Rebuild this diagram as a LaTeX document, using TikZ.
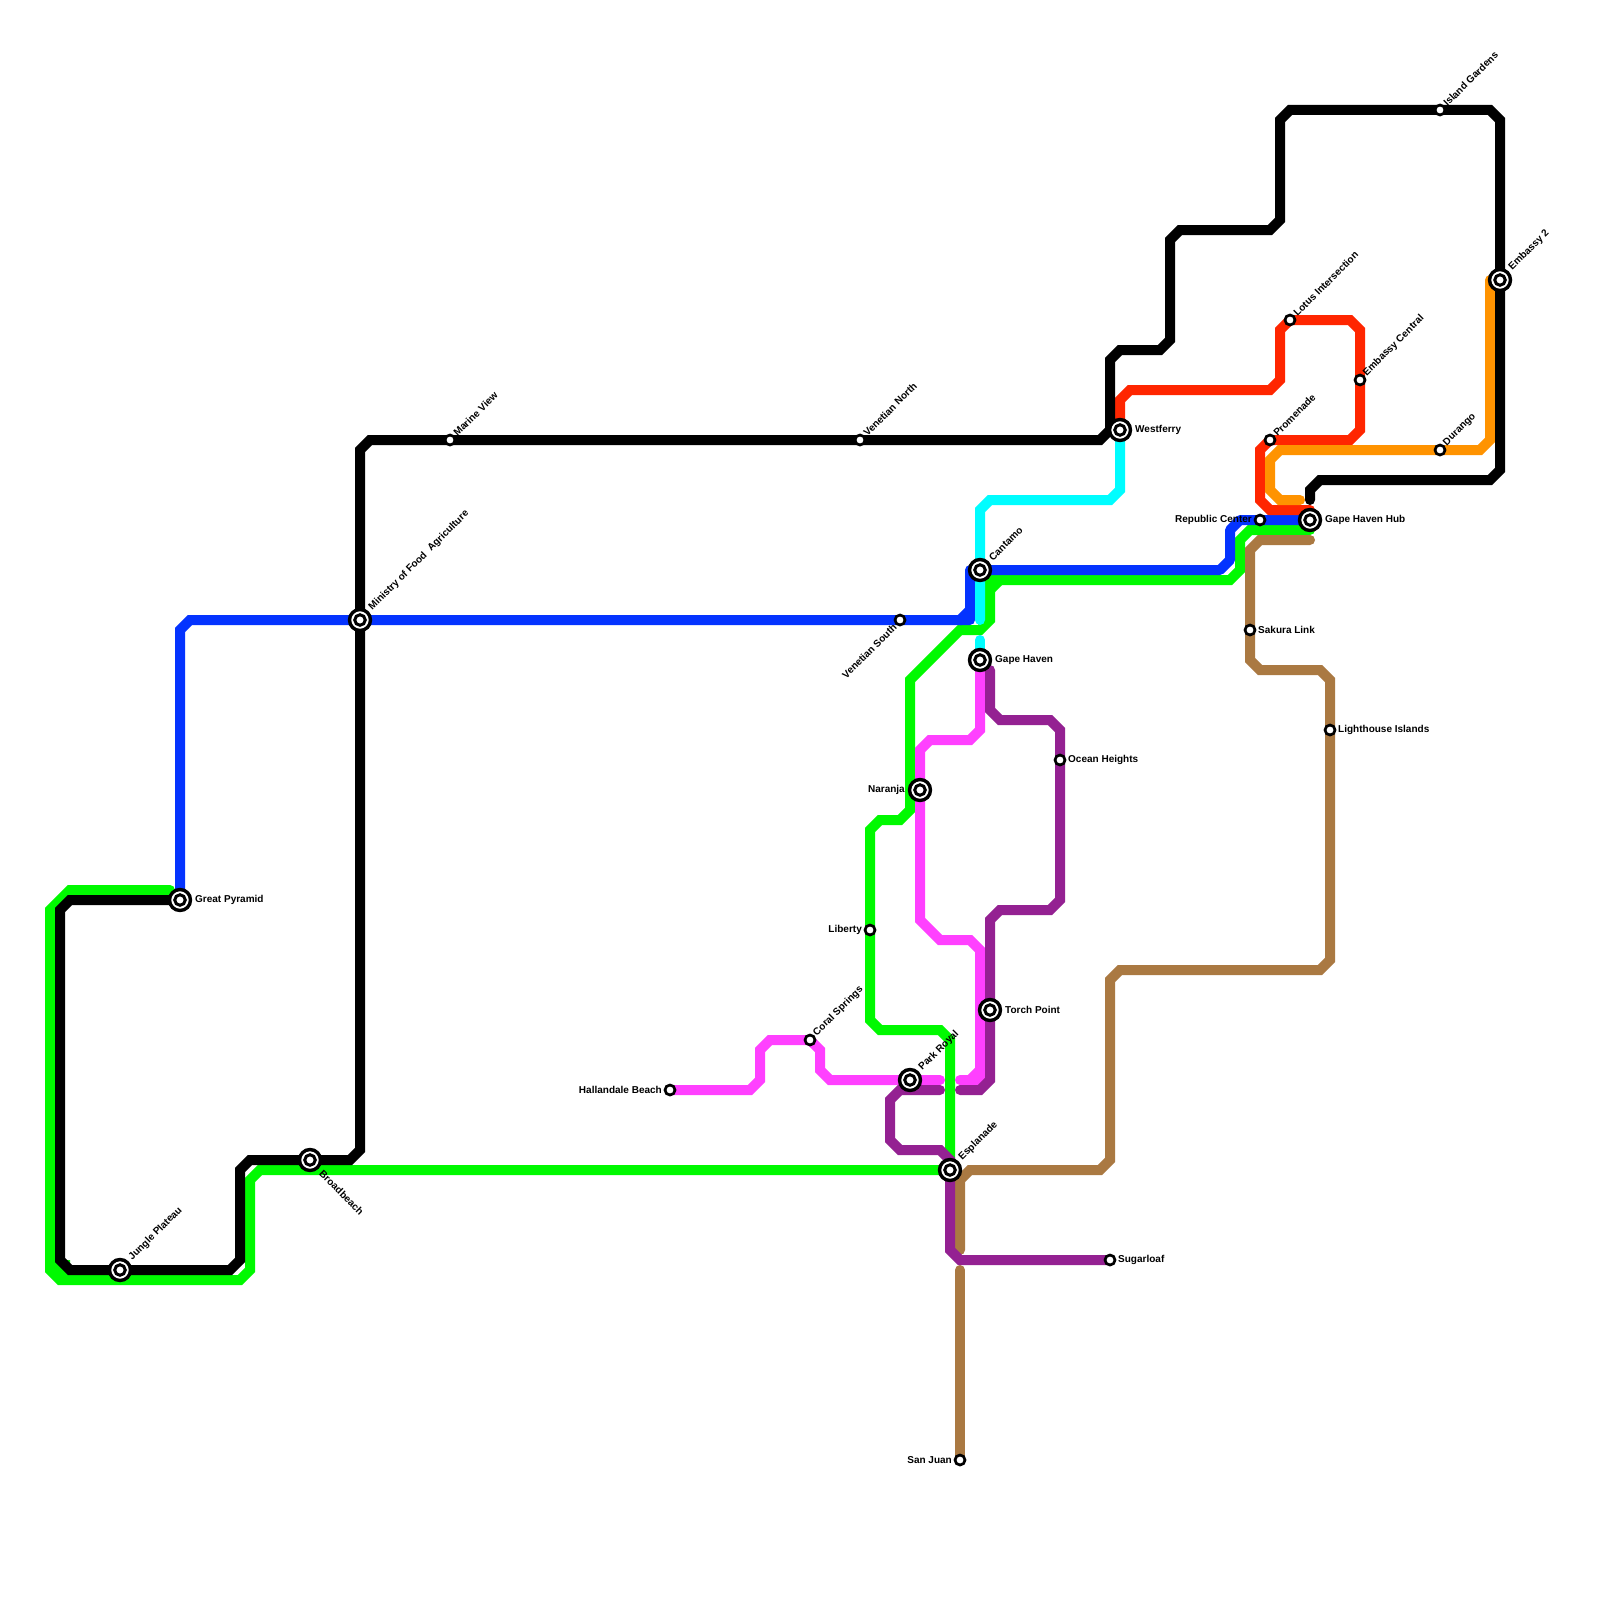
\documentclass[tikz,border=0pt]{standalone}
\usepackage{fontspec}
\setmainfont{Liberation Sans}
\newfontfamily\lblfont{Liberation Sans Bold}
\definecolor{mgreen}{HTML}{00F900}
\definecolor{mblue}{HTML}{0433FF}
\definecolor{mcyan}{HTML}{00FDFF}
\definecolor{mred}{HTML}{FF2600}
\definecolor{morange}{HTML}{FF9300}
\definecolor{mpurple}{HTML}{942192}
\definecolor{mpink}{HTML}{FF40FF}
\definecolor{mbrown}{HTML}{AA7942}
\tikzset{
  x=1pt,y=-1pt,
  metro/.style={line width=10pt,line cap=round,line join=miter,miter limit=10},
  xch/.style={circle,draw=black,fill=white,line width=3.4pt,minimum size=21pt,inner sep=0pt,outer sep=0pt},
  xchin/.style={circle,draw=black,fill=white,line width=3pt,minimum size=10.5pt,inner sep=0pt,outer sep=0pt},
  stn/.style={circle,draw=black,fill=white,line width=2.7pt,minimum size=10pt,inner sep=0pt,outer sep=0pt},
  lbl/.style={inner sep=0pt,text=black,font=\lblfont\fontsize{10pt}{12pt}\selectfont},
  lr/.style={lbl,anchor=west,yshift=-0.3pt},
  ll/.style={lbl,anchor=east,yshift=-0.3pt},
  lu/.style={lbl,anchor=west,rotate=45},
  ld/.style={lbl,anchor=west,rotate=-45},
  lsw/.style={lbl,anchor=east,rotate=45}
}
\begin{document}
\begin{tikzpicture}
\useasboundingbox[fill=white] (0,0) rectangle (1600,1600);
% stations
\coordinate (wf) at (1120,430);
\coordinate (can) at (980,570);
\coordinate (gh) at (980,660);
\coordinate (nar) at (920,790);
\coordinate (pr) at (910,1080);
\coordinate (esp) at (950,1170);
\coordinate (tp) at (990,1010);
\coordinate (sug) at (1110,1260);
\coordinate (jp) at (120,1270);
\coordinate (gp) at (180,900);
\coordinate (bb) at (310,1160);
\coordinate (min) at (360,620);
\coordinate (mv) at (450,440);
\coordinate (vn) at (860,440);
\coordinate (vs) at (900,620);
\coordinate (oh) at (1060,760);
\coordinate (lib) at (870,930);
\coordinate (cs) at (810,1040);
\coordinate (hb) at (670,1090);
\coordinate (sj) at (960,1460);
\coordinate (sak) at (1250,630);
\coordinate (lh) at (1330,730);
\coordinate (hub) at (1310,520);
\coordinate (rc) at (1260,520);
\coordinate (pro) at (1270,440);
\coordinate (lot) at (1290,320);
\coordinate (ec) at (1360,380);
\coordinate (dur) at (1440,450);
\coordinate (ig) at (1440,110);
\coordinate (e2) at (1500,280);
% green
\fill[mgreen] (50,1260) -- (70,1260) -- (70,1280) -- (60,1280) -- (50,1270) -- cycle;
\draw[metro,mgreen] (170,890) -- (70,890) -- (50,910) -- (50,1270) -- (60,1280) -- (240,1280) -- (250,1270) -- (250,1180) -- (260,1170) -- (esp);
\draw[metro,mgreen] (esp) -- (950,1040) -- (940,1030) -- (880,1030) -- (870,1020) -- (lib) -- (870,830) -- (880,820) -- (900,820) -- (910,810) -- (910,680) -- (960,630) -- (980,630) -- (990,620) -- (990,580) -- (1230,580) -- (1240,570) -- (1240,540) -- (1250,530) -- (1310,530);
\draw[line width=10pt,mgreen] (990,590) -- (1000,580);
% brown
\draw[metro,mbrown] (hub) ++(0,20) -- (1260,540) -- (1250,550) -- (sak) -- (1250,660) -- (1260,670) -- (1320,670) -- (1330,680) -- (lh) -- (1330,960) -- (1320,970) -- (1120,970) -- (1110,980) -- (1110,1160) -- (1100,1170) -- (970,1170) -- (960,1180) -- (960,1250);
\draw[metro,mbrown] (960,1270) -- (sj);
% pink
\draw[metro,mpink] (hb) -- (750,1090) -- (760,1080) -- (760,1050) -- (770,1040) -- (cs) -- (820,1050) -- (820,1070) -- (830,1080) -- (pr) -- (940,1080);
\draw[metro,mpink] (960,1080) -- (980,1080) -- (980,950) -- (970,940) -- (940,940) -- (920,920) -- (nar) -- (920,750) -- (930,740) -- (970,740) -- (980,730) -- (gh);
\draw[line width=10pt,mpink] (970,1080) -- (980,1070);
% purple
\draw[metro,mpurple] (940,1090) -- (900,1090) -- (890,1100) -- (890,1140) -- (900,1150) -- (940,1150) -- (950,1160) -- (950,1250) -- (960,1260) -- (sug);
\draw[metro,mpurple] (960,1090) -- (980,1090) -- (990,1080) -- (tp) -- (990,920) -- (1000,910) -- (1050,910) -- (1060,900) -- (oh) -- (1060,730) -- (1050,720) -- (1000,720) -- (990,710) -- (990,670);
% blue
\draw[metro,mblue] (gp) -- (180,630) -- (190,620) -- (min) -- (vs) -- (960,620) -- (970,610);
\draw[metro,mblue,line join=round] (960,620) -- (970,620) -- (970,570) -- (can) -- (1220,570) -- (1230,560) -- (1230,530) -- (1240,520) -- (rc) -- (hub);
% cyan
\draw[metro,mcyan] (wf) -- (1120,490) -- (1110,500) -- (990,500) -- (980,510) -- (can) -- (980,620);
\draw[metro,mcyan] (980,640) -- (gh);
% red
\draw[metro,mred] (wf) -- (1120,400) -- (1130,390) -- (1270,390) -- (1280,380) -- (1280,330) -- (lot) -- (1350,320) -- (1360,330) -- (ec) -- (1360,430) -- (1350,440) -- (pro) -- (1260,450) -- (1260,500) -- (1270,510) -- (1310,510);
% orange
\draw[metro,morange] (1490,280) -- (1490,440) -- (1480,450) -- (dur) -- (1280,450) -- (1270,460) -- (1270,490) -- (1280,500) -- (1300,500);
% black
\draw[metro,black] (1310,500) -- (1310,490) -- (1320,480) -- (1490,480) -- (1500,470) -- (e2) -- (1500,120) -- (1490,110) -- (ig) -- (1290,110) -- (1280,120) -- (1280,220) -- (1270,230) -- (1180,230) -- (1170,240) -- (1170,340) -- (1160,350) -- (1120,350) -- (1110,360) -- (1110,430) -- (1100,440) -- (vn) -- (mv) -- (370,440) -- (360,450) -- (min) -- (360,1150) -- (350,1160) -- (bb) -- (250,1160) -- (240,1170) -- (240,1260) -- (230,1270) -- (jp) -- (70,1270) -- (60,1260) -- (60,910) -- (70,900) -- (gp);
% interchange markers
\foreach \c in {wf,can,gh,nar,pr,esp,tp,jp,gp,bb,min,hub,e2}{
  \node[xch] (o\c) at (\c) {};
  \node[xchin] (i\c) at (\c) {};
}
\foreach \c in {sug,mv,vn,vs,oh,lib,cs,hb,sj,sak,lh,rc,pro,lot,ec,dur,ig}{
  \node[stn] (o\c) at (\c) {};
}
% labels
\node[lr] (twf) at ([xshift=15pt]wf) {Westferry};
\node[lu] (tcan) at ([xshift=10.5pt,yshift=11pt]can) {Cantamo};
\node[lr] (tgh) at ([xshift=15pt]gh) {Gape Haven};
\node[ll] (tnar) at ([xshift=-15pt]nar) {Naranja};
\node[lu] (tpr) at ([xshift=10.5pt,yshift=11pt]pr) {Park Royal};
\node[lu] (tesp) at ([xshift=10.5pt,yshift=11pt]esp) {Esplanade};
\node[lr] (ttp) at ([xshift=15pt]tp) {Torch Point};
\node[lr] (tsug) at ([xshift=8pt]sug) {Sugarloaf};
\node[lu] (tjp) at ([xshift=10.5pt,yshift=11pt]jp) {Jungle Plateau};
\node[lr] (tgp) at ([xshift=15pt]gp) {Great Pyramid};
\node[ld] (tbb) at ([xshift=11pt,yshift=-12pt]bb) {Broadbeach};
\node[lu] (tmin) at ([xshift=10.5pt,yshift=11pt]min) {Ministry of Food\ \ Agriculture};
\node[lu] (tmv) at ([xshift=5pt,yshift=5.5pt]mv) {Marine View};
\node[lu] (tvn) at ([xshift=5pt,yshift=5.5pt]vn) {Venetian North};
\node[lsw] (tvs) at ([xshift=-5pt,yshift=-5.5pt]vs) {Venetian South};
\node[lr] (toh) at ([xshift=8pt]oh) {Ocean Heights};
\node[ll] (tlib) at ([xshift=-8pt]lib) {Liberty};
\node[lu] (tcs) at ([xshift=5pt,yshift=5.5pt]cs) {Coral Springs};
\node[ll] (thb) at ([xshift=-8pt]hb) {Hallandale Beach};
\node[ll] (tsj) at ([xshift=-8pt]sj) {San Juan};
\node[lr] (tsak) at ([xshift=8pt]sak) {Sakura Link};
\node[lr] (tlh) at ([xshift=8pt]lh) {Lighthouse Islands};
\node[lr] (thub) at ([xshift=15pt]hub) {Gape Haven Hub};
\node[ll] (trc) at ([xshift=-8pt]rc) {Republic Center};
\node[lu] (tpro) at ([xshift=5pt,yshift=5.5pt]pro) {Promenade};
\node[lu] (tlot) at ([xshift=5pt,yshift=5.5pt]lot) {Lotus Intersection};
\node[lu] (tec) at ([xshift=5pt,yshift=5.5pt]ec) {Embassy Central};
\node[lu] (tdur) at ([xshift=5pt,yshift=5.5pt]dur) {Durango};
\node[lu] (tig) at ([xshift=5pt,yshift=5.5pt]ig) {Island Gardens};
\node[lu] (te2) at ([xshift=10.5pt,yshift=11pt]e2) {Embassy 2};
\end{tikzpicture}
\end{document}
